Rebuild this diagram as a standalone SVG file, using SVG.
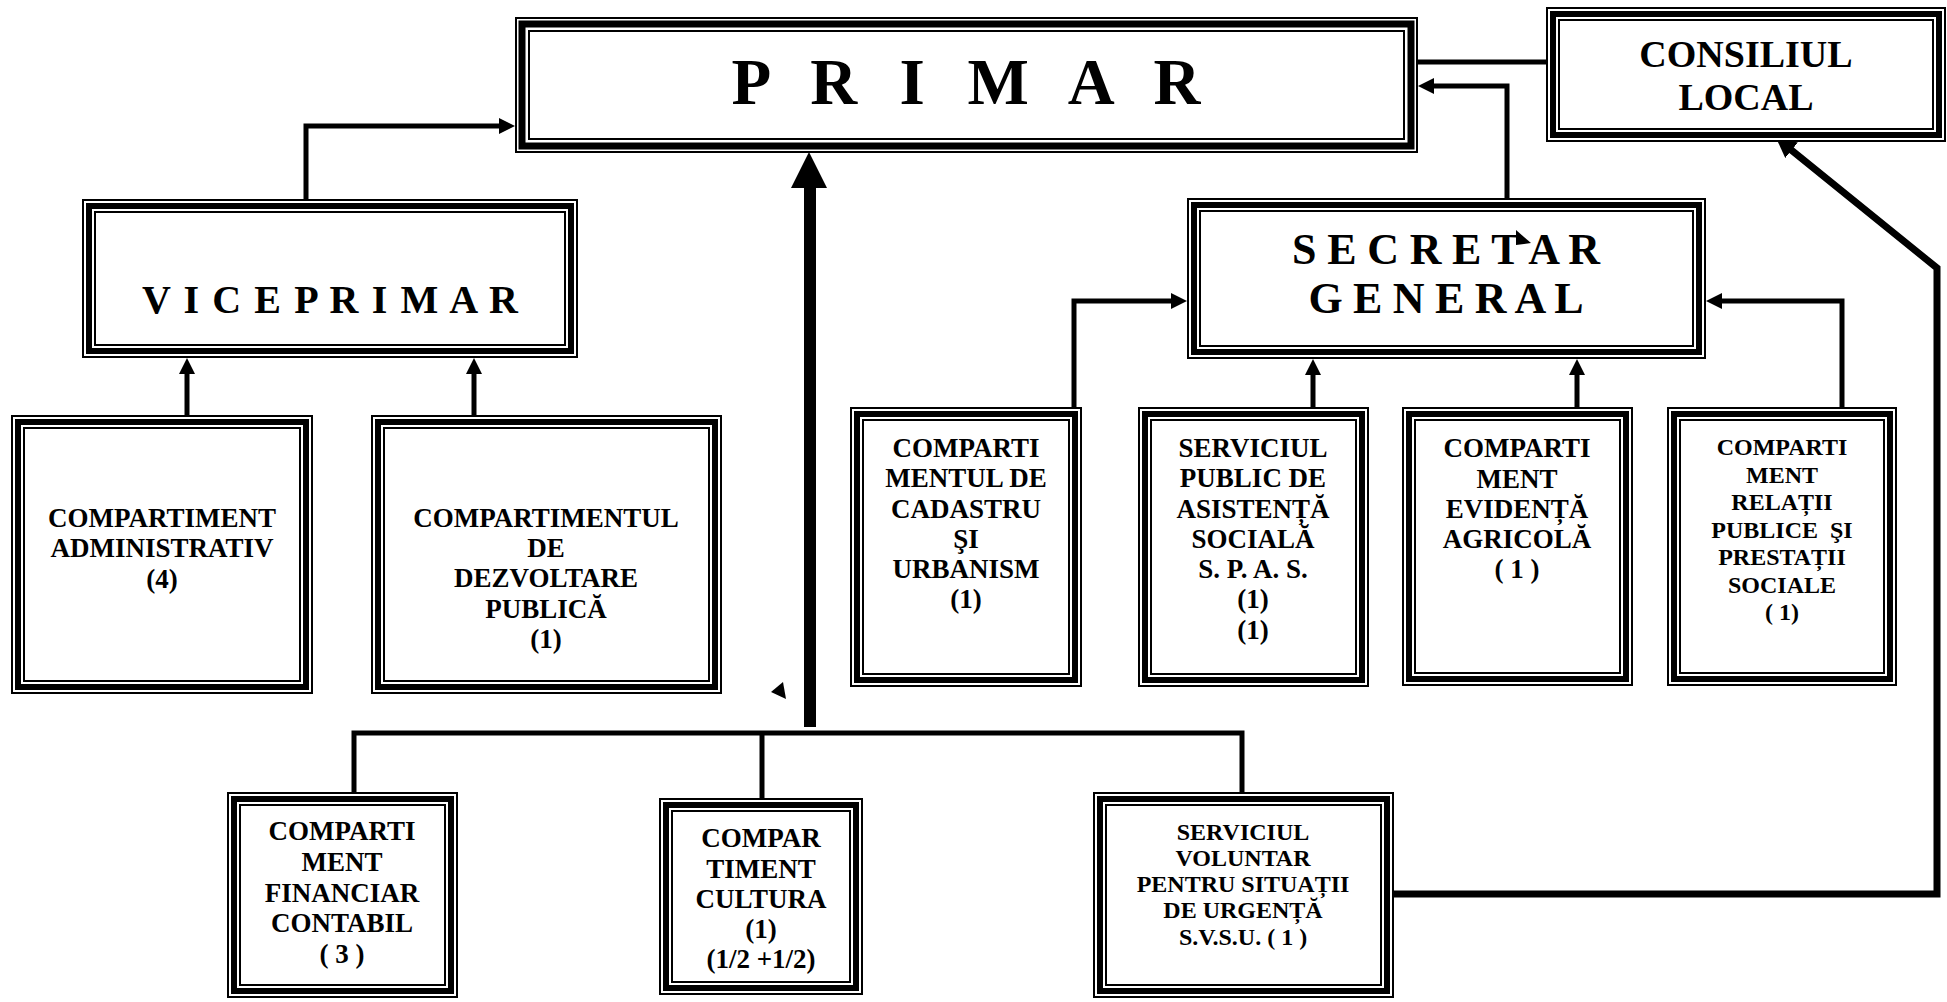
<svg xmlns="http://www.w3.org/2000/svg" width="1947" height="1002" viewBox="0 0 1947 1002">
<style>
  .o{fill:#fff;stroke:#000;stroke-width:2}
  .t{fill:none;stroke:#000;stroke-width:6}
  .i{fill:none;stroke:#000;stroke-width:2}
  text{font-family:"Liberation Serif","Times New Roman",serif;font-weight:bold;fill:#000;text-anchor:middle}
  .s26{font-size:27px}
  .s24{font-size:24px}
  .s23{font-size:24px}
  .c{fill:none;stroke:#000;stroke-width:5;stroke-linejoin:miter}
  .c7{fill:none;stroke:#000;stroke-width:7;stroke-linejoin:miter}
</style>
<defs>
  <marker id="ah" markerUnits="userSpaceOnUse" markerWidth="16" markerHeight="16" refX="2" refY="8" orient="auto">
    <path d="M0,0 L16,8 L0,16 z" fill="#000"/>
  </marker>
  <marker id="ahb" markerUnits="userSpaceOnUse" markerWidth="20" markerHeight="20" refX="2" refY="10" orient="auto">
    <path d="M0,0 L20,10 L0,20 z" fill="#000"/>
  </marker>
</defs>
<rect width="1947" height="1002" fill="#fff"/>

<g id="connectors">
  <path class="c" d="M306 205 V126 H501" marker-end="url(#ah)"/>
  <path class="c" d="M1418 62 H1546"/>
  <path class="c" d="M1507 201 V86 H1432" marker-end="url(#ah)"/>
  <rect x="804" y="185" width="12" height="542" fill="#000"/>
  <polygon points="809,152 827,188 791,188" fill="#000"/>
  <path class="c" d="M354 794 V733 H1242 V794"/>
  <path class="c" d="M762 733 V800"/>
  <path class="c" d="M187 417 V372" marker-end="url(#ah)"/>
  <path class="c" d="M474 417 V372" marker-end="url(#ah)"/>
  <path class="c" d="M1074 409 V301 H1173" marker-end="url(#ah)"/>
  <path class="c" d="M1313 409 V373" marker-end="url(#ah)"/>
  <path class="c" d="M1577 409 V373" marker-end="url(#ah)"/>
  <path class="c" d="M1842 409 V301 H1720" marker-end="url(#ah)"/>
  <path class="c7" d="M1394 894 H1937 V268 L1790 149" marker-end="url(#ahb)"/>
  <polygon points="771,692 783,682 786,699" fill="#000"/>
</g>

<g id="primar">
  <rect class="o" x="516" y="18" width="901" height="134"/>
  <rect class="t" x="522" y="24" width="889" height="122" style="stroke-width:7"/>
  <rect class="i" x="529" y="31" width="875" height="108"/>
  <text x="966" y="104" style="font-size:65px" textLength="469" lengthAdjust="spacing">P R I M A R</text>
</g>

<g id="consiliul-local">
  <rect class="o" x="1547" y="8" width="398" height="133"/>
  <rect class="t" x="1553" y="14" width="386" height="121"/>
  <rect class="i" x="1559" y="20" width="374" height="109"/>
  <text x="1746" y="67" style="font-size:38px">CONSILIUL</text>
  <text x="1746" y="110" style="font-size:38px">LOCAL</text>
</g>

<g id="viceprimar">
  <rect class="o" x="83" y="200" width="494" height="157"/>
  <rect class="t" x="89" y="206" width="482" height="145"/>
  <rect class="i" x="95" y="212" width="470" height="133"/>
  <text x="330" y="313" style="font-size:40px" textLength="376" lengthAdjust="spacing">V I C E P R I M A R</text>
</g>

<g id="secretar-general">
  <rect class="o" x="1188" y="199" width="517" height="159"/>
  <rect class="t" x="1194" y="205" width="505" height="147"/>
  <rect class="i" x="1200" y="211" width="493" height="135"/>
  <text x="1446" y="264" style="font-size:44px" textLength="308" lengthAdjust="spacing">S E C R E T A R</text>
  <text x="1446" y="313" style="font-size:44px" textLength="275" lengthAdjust="spacing">G E N E R A L</text>
  <polygon points="1516,230 1531,243 1516,245" fill="#000"/>
</g>

<g id="compartiment-administrativ">
  <rect class="o" x="12" y="416" width="300" height="277"/>
  <rect class="t" x="18" y="422" width="288" height="265"/>
  <rect class="i" x="24" y="428" width="276" height="253"/>
  <text class="s26" x="162" y="527">COMPARTIMENT</text>
  <text class="s26" x="162" y="557">ADMINISTRATIV</text>
  <text class="s26" x="162" y="588">(4)</text>
</g>

<g id="compartiment-dezvoltare">
  <rect class="o" x="372" y="416" width="349" height="277"/>
  <rect class="t" x="378" y="422" width="337" height="265"/>
  <rect class="i" x="384" y="428" width="325" height="253"/>
  <text class="s26" x="546" y="527">COMPARTIMENTUL</text>
  <text class="s26" x="546" y="557">DE</text>
  <text class="s26" x="546" y="587">DEZVOLTARE</text>
  <text class="s26" x="546" y="618">PUBLICĂ</text>
  <text class="s26" x="546" y="648">(1)</text>
</g>

<g id="compartiment-cadastru">
  <rect class="o" x="851" y="408" width="230" height="278"/>
  <rect class="t" x="857" y="414" width="218" height="266"/>
  <rect class="i" x="863" y="420" width="206" height="254"/>
  <text class="s26" x="966" y="457">COMPARTI</text>
  <text class="s26" x="966" y="487">MENTUL DE</text>
  <text class="s26" x="966" y="518">CADASTRU</text>
  <text class="s26" x="966" y="548">ŞI</text>
  <text class="s26" x="966" y="578">URBANISM</text>
  <text class="s26" x="966" y="608">(1)</text>
</g>

<g id="serviciul-spas">
  <rect class="o" x="1139" y="408" width="229" height="278"/>
  <rect class="t" x="1145" y="414" width="217" height="266"/>
  <rect class="i" x="1151" y="420" width="205" height="254"/>
  <text class="s26" x="1253" y="457">SERVICIUL</text>
  <text class="s26" x="1253" y="487">PUBLIC DE</text>
  <text class="s26" x="1253" y="518">ASISTENȚĂ</text>
  <text class="s26" x="1253" y="548">SOCIALĂ</text>
  <text class="s26" x="1253" y="578">S. P. A. S.</text>
  <text class="s26" x="1253" y="608">(1)</text>
  <text class="s26" x="1253" y="639">(1)</text>
</g>

<g id="compartiment-evidenta-agricola">
  <rect class="o" x="1403" y="408" width="229" height="277"/>
  <rect class="t" x="1409" y="414" width="217" height="265"/>
  <rect class="i" x="1415" y="420" width="205" height="253"/>
  <text class="s26" x="1517" y="457">COMPARTI</text>
  <text class="s26" x="1517" y="488">MENT</text>
  <text class="s26" x="1517" y="518">EVIDENȚĂ</text>
  <text class="s26" x="1517" y="548">AGRICOLĂ</text>
  <text class="s26" x="1517" y="578">( 1 )</text>
</g>

<g id="compartiment-relatii-publice">
  <rect class="o" x="1668" y="408" width="228" height="277"/>
  <rect class="t" x="1674" y="414" width="216" height="265"/>
  <rect class="i" x="1680" y="420" width="204" height="253"/>
  <text class="s24" x="1782" y="455">COMPARTI</text>
  <text class="s24" x="1782" y="483">MENT</text>
  <text class="s24" x="1782" y="510">RELAȚII</text>
  <text class="s24" x="1782" y="538" xml:space="preserve">PUBLICE  ŞI</text>
  <text class="s24" x="1782" y="565">PRESTAȚII</text>
  <text class="s24" x="1782" y="593">SOCIALE</text>
  <text class="s24" x="1782" y="620">( 1)</text>
</g>

<g id="compartiment-financiar-contabil">
  <rect class="o" x="228" y="793" width="229" height="204"/>
  <rect class="t" x="234" y="799" width="217" height="192"/>
  <rect class="i" x="240" y="805" width="205" height="180"/>
  <text class="s26" x="342" y="840">COMPARTI</text>
  <text class="s26" x="342" y="871">MENT</text>
  <text class="s26" x="342" y="902">FINANCIAR</text>
  <text class="s26" x="342" y="932">CONTABIL</text>
  <text class="s26" x="342" y="963">( 3 )</text>
</g>

<g id="compartiment-cultura">
  <rect class="o" x="660" y="799" width="202" height="195"/>
  <rect class="t" x="666" y="805" width="190" height="183"/>
  <rect class="i" x="672" y="811" width="178" height="171"/>
  <text class="s26" x="761" y="847">COMPAR</text>
  <text class="s26" x="761" y="878">TIMENT</text>
  <text class="s26" x="761" y="908">CULTURA</text>
  <text class="s26" x="761" y="938">(1)</text>
  <text class="s26" x="761" y="968">(1/2 +1/2)</text>
</g>

<g id="serviciul-svsu">
  <rect class="o" x="1094" y="793" width="299" height="204"/>
  <rect class="t" x="1100" y="799" width="287" height="192"/>
  <rect class="i" x="1106" y="805" width="275" height="180"/>
  <text class="s23" x="1243" y="840">SERVICIUL</text>
  <text class="s23" x="1243" y="866">VOLUNTAR</text>
  <text class="s23" x="1243" y="892">PENTRU SITUAȚII</text>
  <text class="s23" x="1243" y="918">DE URGENȚĂ</text>
  <text class="s23" x="1243" y="945">S.V.S.U. ( 1 )</text>
</g>
</svg>
